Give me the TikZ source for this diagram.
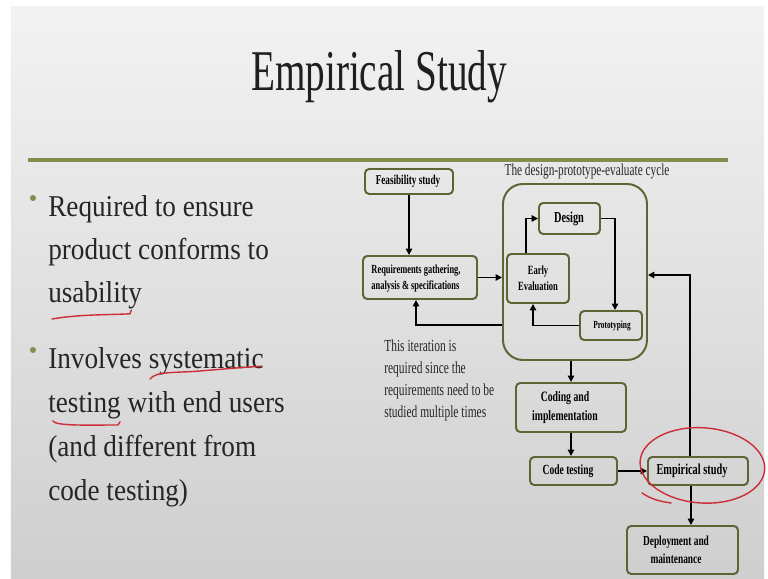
\documentclass[tikz,border=0pt]{standalone}
\usepackage{fontspec}
\setmainfont{Liberation Serif}
\newfontfamily\narrowfont[FakeStretch=0.68]{Liberation Serif}
\newfontfamily\bulletfont[FakeStretch=0.9]{Liberation Serif}
\usetikzlibrary{arrows.meta}
\definecolor{slideolive}{RGB}{128,142,78}
\definecolor{boxolive}{RGB}{96,99,52}
\definecolor{penred}{RGB}{205,45,55}
\tikzset{
	box/.style={shape=rectangle, draw=boxolive, line width=1.4pt, rounded corners=3pt},
	boxtext/.style={anchor=center, align=center, inner sep=0pt},
	link/.style={draw, line width=1.1pt, -{Triangle[length=4.5pt,width=4.5pt]}},
	bullettext/.style={anchor=base west, inner sep=0pt, text=black!85, font=\bulletfont\fontsize{21.5}{26}\selectfont},
	note/.style={anchor=base west, inner sep=0pt, text=black!85, font=\narrowfont\fontsize{12}{14}\selectfont},
	redpen/.style={draw=penred, line width=1pt, line cap=round}
}
\begin{document}
\begin{tikzpicture}
	\useasboundingbox (0,0) rectangle (19.2,14.475);
	% Slide background, title and rule:
	\fill[white] (0,0) rectangle (19.2,14.475);
	\shade[top color=gray!10, bottom color=gray!38] (0.275,0) rectangle (19.1,14.3);
	\node[anchor=base, inner sep=0pt, text=black!88, font=\narrowfont\fontsize{41}{48}\selectfont] (title) at (9.475, 12.2){Empirical Study};
	\draw[slideolive, line width=2.2pt] (0.7, 10.475) -- (18.2, 10.475);
	% Bullets:
	\fill[slideolive] (0.825, 9.525) circle (0.075) node[inner sep=0pt] (dot1){};
	\fill[slideolive] (0.825, 5.725) circle (0.075) node[inner sep=0pt] (dot2){};
	\node[bullettext] (b1l1) at (1.2, 9.05){Required to ensure};
	\node[bullettext] (b1l2) at (1.2, 7.975){product conforms to};
	\node[bullettext] (b1l3) at (1.2, 6.9){usability};
	\node[bullettext] (b2l1) at (1.2, 5.25){Involves systematic};
	\node[bullettext] (b2l2) at (1.2, 4.15){testing with end users};
	\node[bullettext] (b2l3) at (1.2, 3.05){(and different from};
	\node[bullettext] (b2l4) at (1.2, 1.95){code testing)};
	% Boxes and their texts:
	\node[box, minimum width=2.2cm, minimum height=0.625cm] (feas) at (10.225, 9.9375){} node[boxtext, font=\narrowfont\bfseries\fontsize{9.6}{12}\selectfont] (feas-t) at (10.2, 9.9375){Feasibility study};
	\node[box, minimum width=2.85cm, minimum height=1.075cm] (req) at (10.5, 7.5375){} node[boxtext, align=left, font=\narrowfont\bfseries\fontsize{8.8}{12}\selectfont] (req-t) at (10.4, 7.5125){Requirements gathering,\\analysis \& specifications};
	\node[box, rounded corners=0.5cm, minimum width=3.6cm, minimum height=4.4cm] (cyc) at (14.375, 7.675){} node[note, anchor=base, font=\narrowfont\fontsize{11.8}{14}\selectfont] (cyc-t) at (14.675, 10.075){The design-prototype-evaluate cycle};
	\node[box, minimum width=1.525cm, minimum height=0.775cm] (des) at (14.2375, 9.0125){} node[boxtext, font=\narrowfont\bfseries\fontsize{10.8}{13}\selectfont] (des-t) at (14.225, 9.0125){Design};
	\node[box, minimum width=1.55cm, minimum height=1.225cm] (eval) at (13.45, 7.5125){} node[boxtext, font=\narrowfont\bfseries\fontsize{8.9}{11.3}\selectfont] (eval-t) at (13.45, 7.5125){Early\\Evaluation};
	\node[box, minimum width=1.55cm, minimum height=0.725cm] (proto) at (15.275, 6.3375){} node[boxtext, font=\narrowfont\bfseries\fontsize{7.7}{10}\selectfont] (proto-t) at (15.3, 6.3375){Prototyping};
	\node[box, minimum width=2.75cm, minimum height=1.225cm] (code) at (14.275, 4.2875){} node[boxtext, font=\narrowfont\bfseries\fontsize{10.2}{13.5}\selectfont] (code-t) at (14.125, 4.2875){Coding and\\implementation};
	\node[box, minimum width=2.175cm, minimum height=0.7cm] (test) at (14.3375, 2.7){} node[boxtext, font=\narrowfont\bfseries\fontsize{10}{12}\selectfont] (test-t) at (14.2, 2.7){Code testing};
	\node[box, minimum width=2.5cm, minimum height=0.7cm] (emp) at (17.45, 2.7){} node[boxtext, font=\narrowfont\bfseries\fontsize{10.8}{13}\selectfont] (emp-t) at (17.3, 2.7){Empirical study};
	\node[box, minimum width=2.775cm, minimum height=1.2cm] (dep) at (17.0625, 0.725){} node[boxtext, font=\narrowfont\bfseries\fontsize{9.8}{12.8}\selectfont] (dep-t) at (16.9, 0.725){Deployment and\\maintenance};
	% Note on the iteration:
	\node[note] (note1) at (9.6, 5.675){This iteration is};
	\node[note] (note2) at (9.6, 5.125){required since the};
	\node[note] (note3) at (9.6, 4.575){requirements need to be};
	\node[note] (note4) at (9.6, 4.025){studied multiple times};
	% Connectors:
	\coordinate (iter) at (10.4, 6.35);
	\coordinate (back) at (17.25, 7.6);
	\coordinate (down) at ([xshift=-0.175cm]emp.south);
	\draw[link] (feas.south) -- (feas.south |- req.north);
	\draw[link] (req.east) -- (req.east -| cyc.west);
	\draw[link] (iter -| cyc.west) -- (iter) -- (iter |- req.south);
	\draw[link] ([xshift=-0.3cm]eval.north) |- (des.west);
	\draw[link] (des.east) -| ([xshift=0.1cm]proto.north);
	\draw[link] (proto.west) -| ([xshift=-0.125cm]eval.south);
	\draw[link] (code.north |- cyc.south) -- (code.north);
	\draw[link] (code.south) -- (code.south |- test.north);
	\draw[link] (test.east) -- (emp.west);
	\draw[link] (back |- emp.north) -- (back) -- (back -| cyc.east);
	\draw[link] (down) -- (down |- dep.north);
	% Red pen marks:
	\draw[redpen] (1.3, 6.5) .. controls (2.0, 6.62) and (2.7, 6.6) .. (3.25, 6.63) -- (3.28, 6.72);
	\draw[redpen] (3.75, 5.0) .. controls (3.9, 5.2) and (4.4, 5.15) .. (5.0, 5.2) .. controls (5.6, 5.25) and (6.2, 5.3) .. (6.55, 5.32);
	\draw[redpen] (1.32, 3.95) .. controls (1.4, 3.82) and (2.2, 3.85) .. (2.95, 3.85) -- (3.0, 3.93);
	\draw[redpen, rotate around={-4:(17.56, 2.84)}] (17.56, 2.84) ellipse [x radius=1.56cm, y radius=0.94cm];
	\draw[redpen] (16.05, 2.15) .. controls (16.3, 1.98) and (16.55, 1.93) .. (16.78, 1.9);
\end{tikzpicture}
\end{document}
